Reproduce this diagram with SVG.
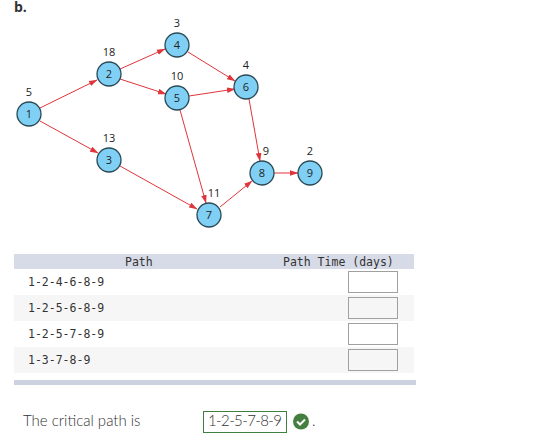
<svg xmlns="http://www.w3.org/2000/svg" width="547" height="435" viewBox="0 0 547 435">
<style>
.n{fill:#80d0f5;stroke:#2a4a55;stroke-width:1.3}
.t{font:11px "Open Sans","Liberation Sans",sans-serif;fill:#222;text-anchor:middle}
.e{stroke:#e0353a;stroke-width:1;fill:none;marker-end:url(#a)}
.m{font:11.5px "DejaVu Sans Mono",monospace;fill:#333}
.b{fill:#fff;stroke:#a0a0a0;stroke-width:1}
.s{font:15px Lato,"Open Sans",sans-serif;font-weight:300;fill:#333}
</style>
<defs><marker id="a" markerUnits="userSpaceOnUse" markerWidth="9" markerHeight="6" refX="8" refY="3" orient="auto"><path d="M0 0.2L8.5 3L0 5.8z" fill="#e0353a"/></marker></defs>
<rect width="547" height="435" fill="#fff"/>
<text x="14" y="12" style="font:bold 14px 'Open Sans','Liberation Sans',sans-serif" fill="#333">b.</text>
<g id="connectors">
<path class="e" d="M40 108L97 80"/>
<path class="e" d="M40 121L98 153"/>
<path class="e" d="M120 69L165 49"/>
<path class="e" d="M120 79L166 94"/>
<path class="e" d="M188 52L235 81"/>
<path class="e" d="M189 96L235 89"/>
<path class="e" d="M180 110L206 203"/>
<path class="e" d="M249 99L260 161"/>
<path class="e" d="M120 166L197 209"/>
<path class="e" d="M220 207L252 181"/>
<path class="e" d="M274 173L298 173"/>
</g>
<g id="node1"><circle class="n" cx="29" cy="114" r="12"/><text class="t" x="29" y="118">1</text><text class="t" x="29" y="96">5</text></g>
<g id="node2"><circle class="n" cx="109" cy="74" r="12"/><text class="t" x="109" y="78">2</text><text class="t" x="109" y="56">18</text></g>
<g id="node3"><circle class="n" cx="109" cy="160" r="12"/><text class="t" x="109" y="164">3</text><text class="t" x="109" y="142">13</text></g>
<g id="node4"><circle class="n" cx="177" cy="45" r="12"/><text class="t" x="177" y="49">4</text><text class="t" x="177" y="27">3</text></g>
<g id="node5"><circle class="n" cx="177" cy="98" r="12"/><text class="t" x="177" y="102">5</text><text class="t" x="177" y="80">10</text></g>
<g id="node6"><circle class="n" cx="246" cy="87" r="12"/><text class="t" x="246" y="91">6</text><text class="t" x="246" y="69">4</text></g>
<g id="node7"><circle class="n" cx="209" cy="215" r="12"/><text class="t" x="209" y="219">7</text><text class="t" x="214" y="197">11</text></g>
<g id="node8"><circle class="n" cx="262" cy="173" r="12"/><text class="t" x="266" y="155">9</text><text class="t" x="262" y="177">8</text></g>
<g id="node9"><circle class="n" cx="310" cy="173" r="12"/><text class="t" x="310" y="177">9</text><text class="t" x="310" y="155">2</text></g>
<rect x="14" y="254" width="400" height="15" fill="#d7dbe7"/>
<rect x="14" y="295" width="400" height="26" fill="#f6f6f6"/>
<rect x="14" y="347" width="400" height="26" fill="#f6f6f6"/>
<rect x="14" y="380" width="402" height="5" fill="#ccd2e0"/>
<text class="m" x="125" y="266">Path</text>
<text class="m" x="283" y="266">Path Time (days)</text>
<text class="m" x="28" y="286">1-2-4-6-8-9</text>
<text class="m" x="28" y="312">1-2-5-6-8-9</text>
<text class="m" x="28" y="338">1-2-5-7-8-9</text>
<text class="m" x="28" y="364">1-3-7-8-9</text>
<rect class="b" x="348.500" y="271.500" width="49" height="21"/>
<rect class="b" x="348.500" y="297.500" width="49" height="21" style="fill:#f6f6f6"/>
<rect class="b" x="348.500" y="323.500" width="49" height="21"/>
<rect class="b" x="348.500" y="349.500" width="49" height="21" style="fill:#f6f6f6"/>
<text class="s" x="23" y="426">The critical path is</text>
<rect x="203.500" y="411.500" width="83" height="21" fill="#fff" stroke="#3f7f3f"/>
<text class="s" x="208" y="426" textLength="74">1-2-5-7-8-9</text>
<circle cx="301" cy="421.500" r="8" fill="#43803f"/>
<path d="M297 421.500l3 3l5-5" fill="none" stroke="#fff" stroke-width="2"/>
<text class="s" x="312" y="426">.</text>
</svg>
